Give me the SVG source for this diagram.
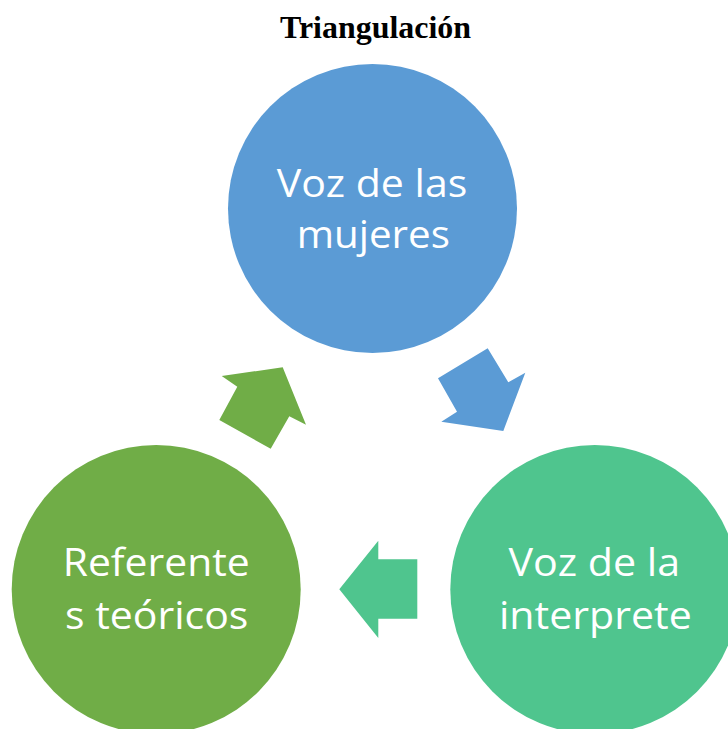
<svg xmlns="http://www.w3.org/2000/svg" width="728" height="729" viewBox="0 0 728 729">
<style>
.t{font-family:"Open Sans","Noto Sans",sans-serif;font-size:39px;fill:#fff}
.title{font-family:"Liberation Serif","Times New Roman",serif;font-size:31.5px;font-weight:bold;fill:#000}
</style>
<rect width="728" height="729" fill="#fff"/>
<text class="title" x="280" y="38" textLength="191" lengthAdjust="spacingAndGlyphs">Triangulación</text>
<g id="connectors">
<polygon id="arrow-blue" fill="#5B9BD5" points="438,378.3 487.7,348.3 508.3,382.3 525.3,372.7 503.3,431 441.3,421.7 457,411.7"/>
<polygon id="arrow-teal" fill="#4FC58E" points="378.3,540.7 378.3,559.3 417.3,559.3 417.3,618.7 378.3,618.7 378.3,638 339.3,589.3"/>
<polygon id="arrow-green" fill="#70AD47" points="282.7,367.3 306,424.7 289.3,416.3 270.7,448.7 219.3,420 237.3,386.7 221.7,376"/>
</g>
<g id="node-voz-mujeres">
<circle cx="372.5" cy="208.5" r="144.5" fill="#5B9BD5"/>
<text class="t" x="276.7" y="196.7" textLength="190.6" lengthAdjust="spacingAndGlyphs">Voz de las</text>
<text class="t" x="296.7" y="248.3" textLength="153.3" lengthAdjust="spacingAndGlyphs">mujeres</text>
</g>
<g id="node-voz-interprete">
<circle cx="594.8" cy="589.5" r="144.5" fill="#4FC58E"/>
<text class="t" x="508.4" y="576" textLength="171.7" lengthAdjust="spacingAndGlyphs">Voz de la</text>
<text class="t" x="499" y="629" textLength="192.7" lengthAdjust="spacingAndGlyphs">interprete</text>
</g>
<g id="node-referentes">
<circle cx="156.2" cy="589.5" r="144.5" fill="#70AD47"/>
<text class="t" x="62.7" y="576" textLength="187.1" lengthAdjust="spacingAndGlyphs">Referente</text>
<text class="t" x="65" y="629" textLength="183.4" lengthAdjust="spacingAndGlyphs">s teóricos</text>
</g>
</svg>
